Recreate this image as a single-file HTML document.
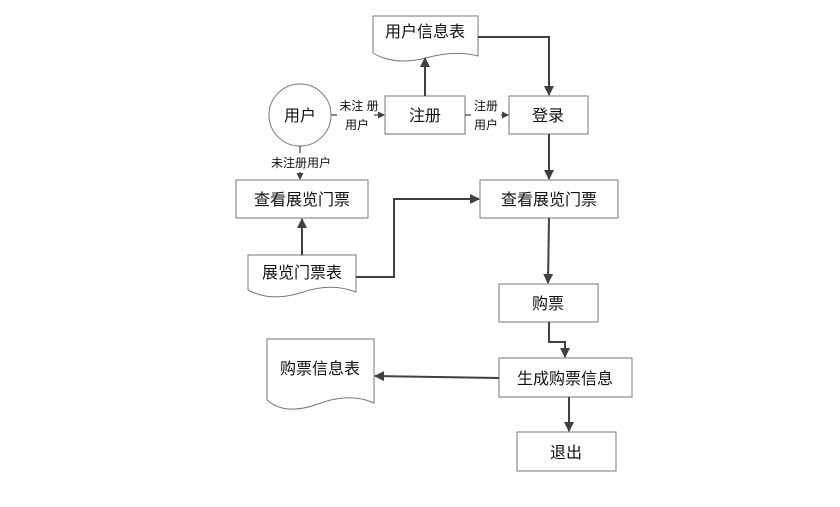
<!DOCTYPE html>
<html><head><meta charset="utf-8"><style>
body{margin:0;background:#fff;}
svg text{font-family:"Liberation Sans","Noto Sans CJK SC",sans-serif;fill:#111;}
</style></head><body>
<svg width="840" height="502" viewBox="0 0 840 502" xmlns="http://www.w3.org/2000/svg">
<defs>
<marker id="a" markerWidth="10" markerHeight="10" refX="9" refY="5" orient="auto" markerUnits="userSpaceOnUse"><path d="M0,0 L10,5 L0,10 z" fill="#404040"/></marker>
<marker id="s" markerWidth="7" markerHeight="7" refX="6" refY="3.5" orient="auto" markerUnits="userSpaceOnUse"><path d="M0,0 L7,3.5 L0,7 z" fill="#404040"/></marker>
</defs>
<g fill="#fff" stroke="#777" stroke-width="1">
<rect x="386" y="97" width="80" height="38" fill="#eee" stroke="none"/>
<rect x="385" y="96" width="80" height="38"/>
<rect x="509" y="96" width="79" height="38"/>
<rect x="236" y="180" width="132" height="38"/>
<rect x="480" y="180" width="138" height="38"/>
<rect x="499" y="284" width="99" height="38"/>
<rect x="499" y="358" width="133" height="39"/>
<rect x="517" y="432" width="99" height="39"/>
<circle cx="300" cy="115" r="31"/>
<path d="M373,16 H478 V56 Q455,50 426,58 Q395,66 373,53 Z"/>
<path d="M248,255 H356 V292 Q330,282 300,293 Q270,302 248,290 Z"/>
<path d="M267,339 H374 V403 Q350,392 318,404 Q285,416 267,400 Z"/>
</g>
<g stroke="#404040" stroke-width="2" fill="none">
<path d="M425,96 V58" marker-end="url(#a)"/>
<path d="M478,37 H549 V95" marker-end="url(#a)"/>
<path d="M549,134 V179" marker-end="url(#a)"/>
<path d="M302,255 V219" marker-end="url(#a)"/>
<path d="M356,277 H394 V199 H479" marker-end="url(#a)"/>
<path d="M549,218 L548,283" marker-end="url(#a)"/>
<path d="M549,322 V342 H565 V357" marker-end="url(#a)"/>
<path d="M499,378 L375,376" marker-end="url(#a)"/>
<path d="M569,397 V431" marker-end="url(#a)"/>
</g>
<g stroke="#404040" stroke-width="1.2" fill="none">
<path d="M331,115 H337"/><path d="M374,115 H384" marker-end="url(#s)"/>
<path d="M465,115 H471"/><path d="M501,115 H508" marker-end="url(#s)"/>
<path d="M300,146 V153"/><path d="M300,172 V179" marker-end="url(#s)"/>
</g>
<g font-size="16" text-anchor="middle">
<text x="425" y="37">用户信息表</text>
<text x="300" y="121">用户</text>
<text x="425" y="121">注册</text>
<text x="548" y="121">登录</text>
<text x="302" y="205">查看展览门票</text>
<text x="549" y="205">查看展览门票</text>
<text x="302" y="278">展览门票表</text>
<text x="548" y="309">购票</text>
<text x="565" y="384">生成购票信息</text>
<text x="320" y="374">购票信息表</text>
<text x="566" y="458">退出</text>
</g>
<g font-size="12" text-anchor="middle">
<text x="359" y="110">未注 册</text>
<text x="357" y="129">用户</text>
<text x="486" y="110">注册</text>
<text x="486" y="129">用户</text>
<text x="301" y="167">未注册用户</text>
</g>
</svg>
</body></html>
